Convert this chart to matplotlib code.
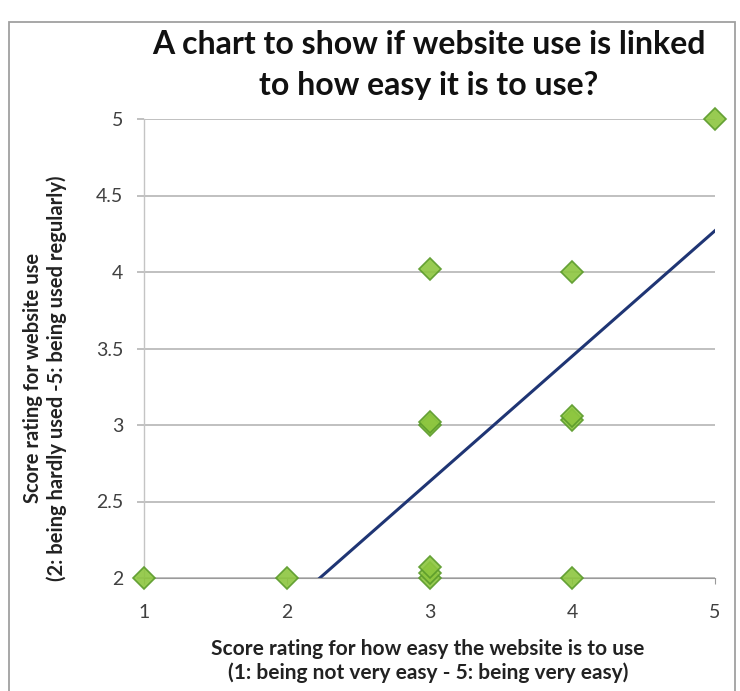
import matplotlib
matplotlib.use("Agg")
import matplotlib.pyplot as plt
import numpy as np
from matplotlib.patches import Rectangle

# Data
ease_scores = [1, 2, 3, 3, 3, 3, 3, 3, 4, 4, 4, 4, 5]
use_scores = [2, 2, 2.0, 2.03, 2.07, 3.0, 3.02, 4.02, 4.0, 3.03, 3.06, 2.0, 5.0]
trend_slope = 0.82
trend_intercept = 0.17
x_ticks = [1, 2, 3, 4, 5]
y_ticks = [2, 2.5, 3, 3.5, 4, 4.5, 5]
y_tick_labels = ["2", "2.5", "3", "3.5", "4", "4.5", "5"]

title = "A chart to show if website use is linked\nto how easy it is to use?"
xlabel = "Score rating for how easy the website is to use\n(1: being not very easy - 5: being very easy)"
ylabel = "Score rating for website use\n(2: being hardly used -5: being used regularly)"

plt.rcParams['font.family'] = ['Lato', 'DejaVu Sans']

fig = plt.figure(figsize=(7.4, 6.91), dpi=100)
fig.patches.append(Rectangle((9/740, -0.01), (735-9)/740, 1 - 22/691 + 0.01,
                             transform=fig.transFigure, fill=False,
                             edgecolor="#a0a0a0", linewidth=1.3))
ax = fig.add_axes([144/740, 1 - 578/691, (715-144)/740, (578-119)/691])
ax.set_xlim(1, 5)
ax.set_ylim(2, 5)

ax.set_yticks(y_ticks)
ax.set_yticklabels(y_tick_labels)
ax.set_xticks(x_ticks)
ax.set_xticklabels([str(v) for v in x_ticks])
ax.grid(axis="y", color="#b5b5b5", linewidth=1.2, zorder=1)
ax.set_axisbelow(True)

xs = np.array([1, 5], dtype=float)
ax.plot(xs, trend_intercept + trend_slope * xs, color="#1f3574", linewidth=2.2, zorder=2)

ax.plot(ease_scores, use_scores, linestyle="none", marker="D", markersize=11,
        markerfacecolor="#8dc63f", markeredgecolor="#5a9a2a", markeredgewidth=1.2,
        alpha=0.9, zorder=3, clip_on=False)

for s in ["top", "right"]:
    ax.spines[s].set_visible(False)
ax.spines["bottom"].set_color("#9a9a9a")
ax.spines["left"].set_color("#c4c4c4")
ax.spines["left"].set_linewidth(1.0)

ax.tick_params(axis="x", direction="out", length=4, color="#9a9a9a", pad=15,
               labelsize=14, labelcolor="#404040")
ax.tick_params(axis="y", direction="out", length=5, width=1.2, color="#b5b5b5",
               pad=10, labelsize=14, labelcolor="#404040")

fig.text(429/740, 1 - 65/691, title, ha="center", va="center", fontsize=23,
         fontweight="bold", color="#111111", linespacing=1.5)
fig.text(428/740, 1 - 661/691, xlabel, ha="center", va="center", fontsize=15,
         fontweight="bold", color="#222222", linespacing=1.25)
fig.text(45/740, 1 - 378/691, ylabel, ha="center", va="center", fontsize=14.5,
         fontweight="bold", color="#222222", rotation=90, linespacing=1.25)

fig.savefig("out.png", dpi=100)
